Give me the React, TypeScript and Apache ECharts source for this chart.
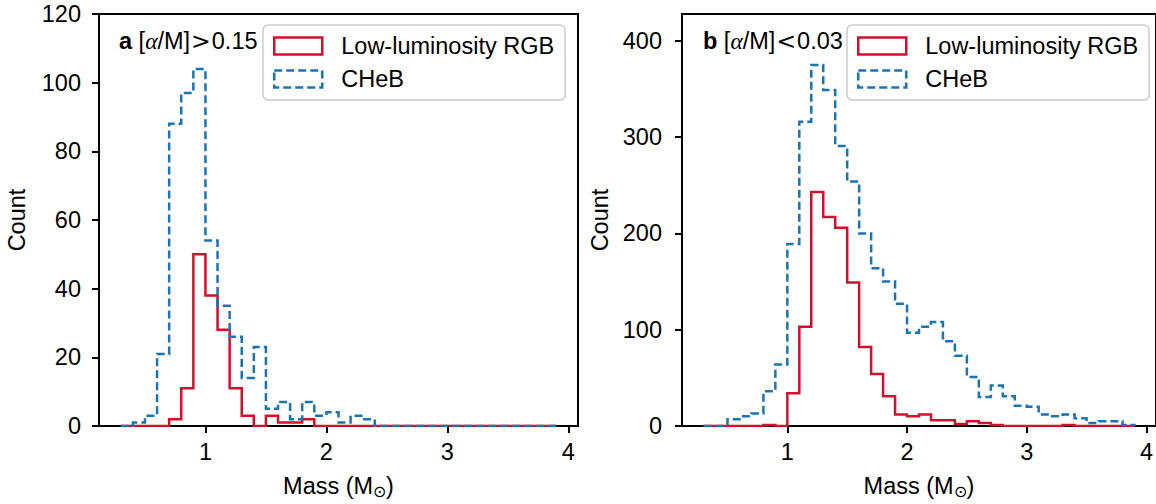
import React, { useEffect, useRef } from "react";
import * as echarts from "echarts";

// Histogram bins: 0.3 .. 3.9 M_sun, width 0.1
const BIN_START = 0.3;
const BIN_WIDTH = 0.1;
const X_TICKS = [1, 2, 3, 4];
const Y_TICKS_B = [0, 100, 200, 300, 400];
const SERIES_NAMES = ["Low-luminosity RGB", "CHeB"];

// Panel a: [α/M] > 0.15
const rgbA = [0, 0, 0, 0, 2, 11, 50, 38, 28, 11, 3, 0, 3, 1, 1, 2, 0, 0, 0, 0, 0, 0, 0, 0, 0, 0, 0, 0, 0, 0, 0, 0, 0, 0, 0, 0];
const chebA = [0, 1, 3, 21, 88, 97, 104, 54, 35, 26, 14, 23, 5, 7, 2, 7, 3, 4, 1, 3, 2, 0, 0, 0, 0, 0, 0, 0, 0, 0, 0, 0, 0, 0, 0, 0];

// Panel b: [α/M] < 0.03
const rgbB = [0, 0, 0, 0, 0, 1, 0, 34, 103, 243, 217, 206, 149, 82, 54, 31, 12, 10, 12, 6, 6, 2, 5, 3, 1, 0, 0, 0, 0, 0, 1, 0, 0, 0, 0, 0];
const chebB = [0, 0, 7, 10, 13, 36, 64, 189, 316, 375, 349, 291, 254, 200, 164, 150, 127, 97, 103, 108, 88, 73, 51, 30, 42, 31, 21, 20, 12, 10, 12, 8, 3, 5, 5, 1];

const RED = "#d0102c";
const BLUE = "#1a74b2";
const FONT = "'Liberation Sans', Arial, Helvetica, sans-serif";
const TICK_FS = 23.5;
const NAME_FS = 23.5;

function stepPoints(counts: number[]): number[][] {
  const r = (v: number) => Math.round(v * 1000) / 1000;
  const pts: number[][] = [[r(BIN_START), 0]];
  counts.forEach((c, i) => {
    const x0 = r(BIN_START + i * BIN_WIDTH);
    const x1 = r(BIN_START + (i + 1) * BIN_WIDTH);
    pts.push([x0, c], [x1, c]);
  });
  pts.push([r(BIN_START + counts.length * BIN_WIDTH), 0]);
  return pts;
}

const axisLine = { show: true, lineStyle: { color: "#000", width: 2 } };
const axisTickBase = { show: true, inside: false, length: 7, lineStyle: { color: "#000", width: 2 } };
const labelBase = { color: "#000", fontSize: TICK_FS, fontFamily: FONT };

function xAxis(gridIndex: number) {
  return {
    type: "value",
    gridIndex,
    min: 0.12,
    max: 4.08,
    axisLine,
    axisTick: { ...axisTickBase, customValues: X_TICKS },
    axisLabel: { ...labelBase, margin: 14, customValues: X_TICKS },
    splitLine: { show: false },
    name: "Mass (M{sub|⊙})",
    nameLocation: "middle",
    nameGap: 46,
    nameTextStyle: {
      color: "#000",
      fontSize: NAME_FS,
      fontFamily: FONT,
      rich: {
        sub: { fontSize: 16, fontFamily: FONT, color: "#000", verticalAlign: "top", padding: [11, 0, 0, 0] },
      },
    },
  };
}

function legend(left: number) {
  return {
    left,
    top: 25,
    orient: "vertical",
    itemWidth: 48,
    itemHeight: 17,
    itemGap: 9,
    padding: [9, 11, 9, 10],
    borderColor: "#cccccc",
    borderWidth: 1.5,
    borderRadius: 5,
    backgroundColor: "rgba(255,255,255,0.8)",
    textStyle: { color: "#000", fontSize: 23.5, fontFamily: FONT, padding: [0, 0, 0, 14] },
    data: [
      {
        name: SERIES_NAMES[0],
        icon: "rect",
        itemStyle: { color: "rgba(0,0,0,0)", borderColor: RED, borderWidth: 2.5 },
      },
      {
        name: SERIES_NAMES[1],
        icon: "rect",
        itemStyle: { color: "rgba(0,0,0,0)", borderColor: BLUE, borderWidth: 2.5, borderType: [8, 4] },
      },
    ],
    selectedMode: false,
  };
}

function stepSeries(name: string, counts: number[], idx: number, color: string, dashed: boolean) {
  return {
    type: "line",
    name,
    xAxisIndex: idx,
    yAxisIndex: idx,
    data: stepPoints(counts),
    symbol: "none",
    silent: true,
    z: dashed ? 3 : 2,
    lineStyle: { color, width: 2.5, type: dashed ? [8, 4] : "solid", cap: "butt", join: "miter" },
    itemStyle: { color },
  };
}

function titleText(letter: string, rel: string, value: string, left: number) {
  return {
    left,
    top: 29,
    text: `{b|${letter}} [{i|α}/M]{r|${rel}}${value}`,
    textStyle: {
      color: "#000",
      fontSize: 23.5,
      fontFamily: FONT,
      fontWeight: "normal",
      rich: {
        b: { fontWeight: "bold", fontSize: 23.5, fontFamily: FONT, color: "#000" },
        i: { fontStyle: "italic", fontSize: 23.5, fontFamily: "'Liberation Serif', 'DejaVu Serif', serif", color: "#000" },
        r: { fontSize: 23.5, fontFamily: "'DejaVu Sans', sans-serif", color: "#000", padding: [0, 1, 0, 1] },
      },
    },
    padding: 0,
  };
}

export default function App() {
  const ref = useRef<HTMLDivElement>(null);
  useEffect(() => {
    if (!ref.current) return;
    const chart = echarts.init(ref.current, null, { renderer: "svg" });
    const yName = { color: "#000", fontSize: NAME_FS, fontFamily: FONT };
    const option = {
      animation: false,
      backgroundColor: "#ffffff",
      textStyle: { fontFamily: FONT },
      title: [titleText("a", ">", "0.15", 119), titleText("b", "<", "0.03", 703)],
      legend: [legend(263), legend(847)],
      grid: [
        { left: 99, top: 14, width: 479, height: 414, show: true, borderColor: "#000", borderWidth: 2, backgroundColor: "transparent" },
        { left: 682, top: 14, width: 479, height: 414, show: true, borderColor: "#000", borderWidth: 2, backgroundColor: "transparent" },
      ],
      xAxis: [xAxis(0), xAxis(1)],
      yAxis: [
        {
          type: "value",
          gridIndex: 0,
          min: 0,
          max: 120,
          interval: 20,
          axisLine,
          axisTick: axisTickBase,
          axisLabel: { ...labelBase, margin: 18 },
          splitLine: { show: false },
          name: "Count",
          nameLocation: "middle",
          nameGap: 70,
          nameTextStyle: yName,
        },
        {
          type: "value",
          gridIndex: 1,
          min: 0,
          max: 428,
          axisLine,
          axisTick: { ...axisTickBase, customValues: Y_TICKS_B },
          axisLabel: { ...labelBase, margin: 20, customValues: Y_TICKS_B },
          splitLine: { show: false },
          name: "Count",
          nameLocation: "middle",
          nameGap: 70,
          nameTextStyle: yName,
        },
      ],
      series: [
        stepSeries(SERIES_NAMES[0], rgbA, 0, RED, false),
        stepSeries(SERIES_NAMES[1], chebA, 0, BLUE, true),
        stepSeries(SERIES_NAMES[0], rgbB, 1, RED, false),
        stepSeries(SERIES_NAMES[1], chebB, 1, BLUE, true),
      ],
    };
    chart.setOption(option as any);
    return () => chart.dispose();
  }, []);
  return (
    <div
      ref={ref}
      style={{ position: "fixed", left: 0, top: 0, width: 1156, height: 504, background: "#fff" }}
    />
  );
}
